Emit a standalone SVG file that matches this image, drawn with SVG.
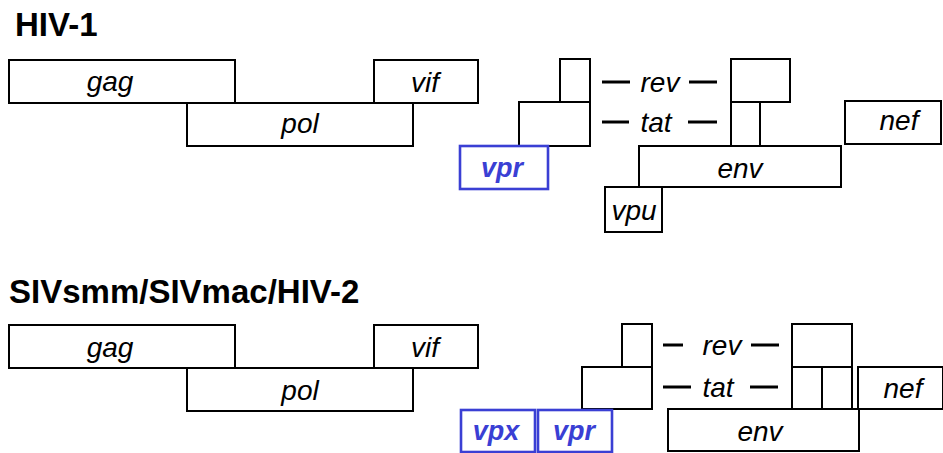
<svg xmlns="http://www.w3.org/2000/svg" width="943" height="453" viewBox="0 0 943 453">
<style>
.b{fill:#fff;stroke:#000;stroke-width:2}
.v{fill:#fff;stroke:#3a3fd4;stroke-width:2.6}
.t{font-family:"Liberation Sans",Arial,sans-serif;font-style:italic;font-size:28px;fill:#000;text-anchor:middle}
.vt{font-family:"Liberation Sans",Arial,sans-serif;font-style:italic;font-weight:bold;font-size:27px;fill:#3a3fd4;text-anchor:middle}
.h{font-family:"Liberation Sans",Arial,sans-serif;font-weight:bold;font-size:33px;fill:#000}
.d{stroke:#000;stroke-width:3}
</style>
<rect width="943" height="453" fill="#fff"/>
<text class="h" x="15" y="36">HIV-1</text>
<g id="hiv1-gag"><rect class="b" x="9" y="60" width="226" height="43"/><text class="t" x="110" y="91">gag</text></g>
<g id="hiv1-vif"><rect class="b" x="374" y="60" width="104" height="43"/><text class="t" x="425" y="92">vif</text></g>
<g id="hiv1-pol"><rect class="b" x="187" y="103" width="226" height="43"/><text class="t" x="300" y="133">pol</text></g>
<g id="hiv1-rev1"><rect class="b" x="560" y="59" width="30" height="43"/></g>
<g id="hiv1-tat1"><rect class="b" x="519" y="102" width="71" height="44"/></g>
<g id="hiv1-vpr"><rect class="v" x="460" y="146" width="88" height="43"/><text class="vt" x="502" y="177">vpr</text></g>
<g id="hiv1-rev"><line class="d" x1="602" y1="82" x2="630" y2="82"/><text class="t" x="660" y="92">rev</text><line class="d" x1="689" y1="82" x2="717" y2="82"/></g>
<g id="hiv1-tat"><line class="d" x1="602" y1="122" x2="629" y2="122"/><text class="t" x="656" y="132">tat</text><line class="d" x1="688" y1="122" x2="717" y2="122"/></g>
<g id="hiv1-rev2"><rect class="b" x="731" y="59" width="59" height="43"/></g>
<g id="hiv1-tat2"><rect class="b" x="731" y="102" width="29" height="44"/></g>
<g id="hiv1-nef"><rect class="b" x="845" y="101" width="96" height="43"/><text class="t" x="899" y="130">nef</text></g>
<g id="hiv1-env"><rect class="b" x="639" y="146" width="202" height="41"/><text class="t" x="740" y="178">env</text></g>
<g id="hiv1-vpu"><rect class="b" x="605" y="187" width="57" height="45"/><text class="t" x="634" y="220">vpu</text></g>

<text class="h" x="9" y="303">SIVsmm/SIVmac/HIV-2</text>
<g id="siv-gag"><rect class="b" x="9" y="325" width="226" height="43"/><text class="t" x="110" y="357">gag</text></g>
<g id="siv-vif"><rect class="b" x="374" y="325" width="104" height="43"/><text class="t" x="425" y="357">vif</text></g>
<g id="siv-pol"><rect class="b" x="187" y="368" width="226" height="43"/><text class="t" x="300" y="400">pol</text></g>
<g id="siv-rev1"><rect class="b" x="622" y="324" width="30" height="43"/></g>
<g id="siv-tat1"><rect class="b" x="582" y="367" width="70" height="42"/></g>
<g id="siv-vpx"><rect class="v" x="461" y="410" width="74" height="42"/><text class="vt" x="496" y="440">vpx</text></g>
<g id="siv-vpr"><rect class="v" x="538" y="410" width="74" height="42"/><text class="vt" x="574" y="440">vpr</text></g>
<g id="siv-rev"><line class="d" x1="663" y1="345" x2="683" y2="345"/><text class="t" x="722" y="355">rev</text><line class="d" x1="751" y1="345" x2="779" y2="345"/></g>
<g id="siv-tat"><line class="d" x1="663" y1="387" x2="691" y2="387"/><text class="t" x="718" y="397">tat</text><line class="d" x1="750" y1="387" x2="778" y2="387"/></g>
<g id="siv-rev2"><rect class="b" x="792" y="324" width="60" height="43"/></g>
<g id="siv-tat2"><rect class="b" x="792" y="367" width="30" height="42"/><rect class="b" x="822" y="367" width="30" height="42"/></g>
<g id="siv-nef"><rect class="b" x="858" y="367" width="85" height="42"/><text class="t" x="903" y="398">nef</text></g>
<g id="siv-env"><rect class="b" x="668" y="409" width="191" height="42"/><text class="t" x="760" y="441">env</text></g>
</svg>
